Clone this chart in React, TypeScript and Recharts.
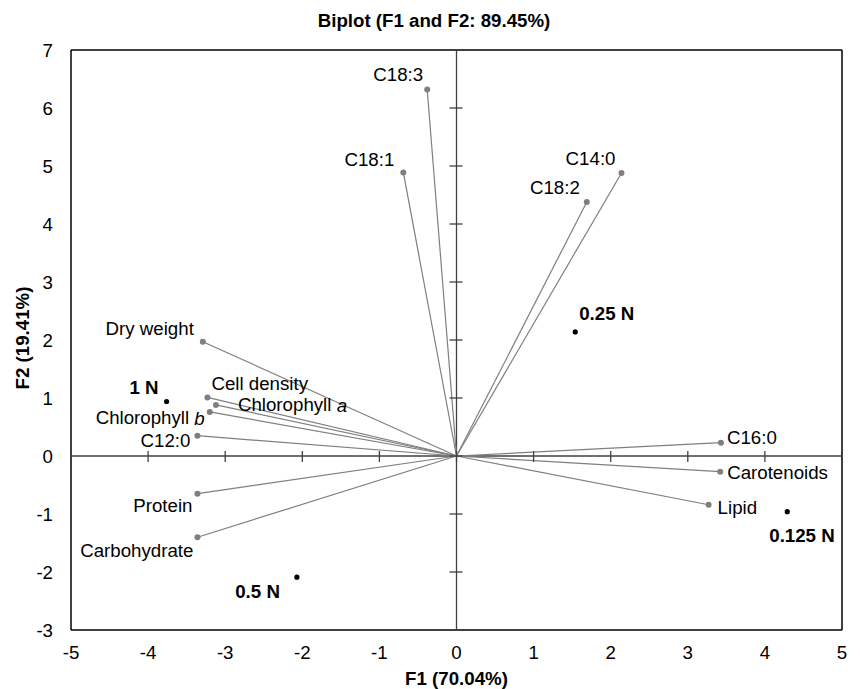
import {
  ScatterChart,
  Scatter,
  XAxis,
  YAxis,
  ReferenceLine,
  ReferenceDot,
} from "recharts";

// Loadings (variables) on F1 / F2
const variableNames = [
  "C18:3",
  "C18:1",
  "C14:0",
  "C18:2",
  "Dry weight",
  "Cell density",
  "Chlorophyll a",
  "Chlorophyll b",
  "C12:0",
  "Protein",
  "Carbohydrate",
  "C16:0",
  "Carotenoids",
  "Lipid",
];
const variableF1 = [-0.38, -0.69, 2.14, 1.69, -3.29, -3.23, -3.12, -3.2, -3.36, -3.36, -3.36, 3.43, 3.42, 3.27];
const variableF2 = [6.32, 4.89, 4.88, 4.38, 1.97, 1.01, 0.88, 0.76, 0.35, -0.65, -1.4, 0.23, -0.27, -0.84];

// Observations (nitrogen treatments)
const obsNames = ["1 N", "0.5 N", "0.25 N", "0.125 N"];
const obsF1 = [-3.76, -2.07, 1.54, 4.29];
const obsF2 = [0.94, -2.09, 2.14, -0.96];

const xTicks = [-5, -4, -3, -2, -1, 0, 1, 2, 3, 4, 5];
const yTicks = [-3, -2, -1, 0, 1, 2, 3, 4, 5, 6, 7];

const FONT = '"Liberation Sans", Arial, sans-serif';
const FS = 18.7;

// label placement relative to the marker (pixels)
type Anchor = "start" | "middle" | "end";
const labelPos: Record<string, { dx: number; dy: number; anchor: Anchor }> = {
  "C18:3": { dx: -4, dy: -15, anchor: "end" },
  "C18:1": { dx: -9, dy: -13, anchor: "end" },
  "C14:0": { dx: -6, dy: -14, anchor: "end" },
  "C18:2": { dx: -7, dy: -14, anchor: "end" },
  "Dry weight": { dx: -9, dy: -13, anchor: "end" },
  "Cell density": { dx: 4, dy: -14, anchor: "start" },
  "Chlorophyll a": { dx: 22, dy: 0, anchor: "start" },
  "Chlorophyll b": { dx: -5, dy: 6, anchor: "end" },
  "C12:0": { dx: -7, dy: 5, anchor: "end" },
  Protein: { dx: -5, dy: 12, anchor: "end" },
  Carbohydrate: { dx: -4, dy: 13, anchor: "end" },
  "C16:0": { dx: 6, dy: -5, anchor: "start" },
  Carotenoids: { dx: 7, dy: 1, anchor: "start" },
  Lipid: { dx: 9, dy: 3, anchor: "start" },
  "1 N": { dx: -8, dy: -14, anchor: "end" },
  "0.5 N": { dx: -17, dy: 14, anchor: "end" },
  "0.25 N": { dx: 4, dy: -18, anchor: "start" },
  "0.125 N": { dx: -18, dy: 24, anchor: "start" },
};

const variables = variableNames.map((name, i) => ({ name, x: variableF1[i], y: variableF2[i] }));
const observations = obsNames.map((name, i) => ({ name, x: obsF1[i], y: obsF2[i] }));

function labelText(name: string) {
  // italic trailing a / b for chlorophylls
  const m = name.match(/^(Chlorophyll )([ab])$/);
  if (m) {
    return (
      <>
        {m[1]}
        <tspan fontStyle="italic">{m[2]}</tspan>
      </>
    );
  }
  return name;
}

function makeShape(color: string, r: number, bold: boolean) {
  return (props: any) => {
    const { cx, cy, payload } = props;
    const p = labelPos[payload.name] ?? { dx: 6, dy: 0, anchor: "start" as Anchor };
    return (
      <g>
        <circle cx={cx} cy={cy} r={r} fill={color} />
        <text
          x={cx + p.dx}
          y={cy + p.dy}
          textAnchor={p.anchor}
          dominantBaseline="central"
          fontFamily={FONT}
          fontSize={FS}
          fontWeight={bold ? 700 : 400}
          fill="#000"
        >
          {labelText(payload.name)}
        </text>
      </g>
    );
  };
}

const XTick = (props: any) => (
  <text x={props.x} y={props.y + 22} textAnchor="middle" dominantBaseline="central" fontFamily={FONT} fontSize={FS} fill="#000">
    {props.payload.value}
  </text>
);

const YTick = (props: any) => (
  <text x={props.x - 18} y={props.y} textAnchor="end" dominantBaseline="central" fontFamily={FONT} fontSize={FS} fill="#000">
    {props.payload.value}
  </text>
);

const titleStyle = {
  position: "absolute" as const,
  fontFamily: FONT,
  fontWeight: 700,
  fontSize: FS,
  lineHeight: "22px",
  whiteSpace: "nowrap" as const,
};

export default function App() {
  return (
    <div style={{ position: "absolute", left: 0, top: 0, width: 860, height: 689, background: "#fff" }}>
      <div style={{ ...titleStyle, left: 0, width: 868, top: 10, textAlign: "center" }}>
        Biplot (F1 and F2: 89.45%)
      </div>
      <div style={{ ...titleStyle, left: 71, width: 771, top: 668, textAlign: "center" }}>
        F1 (70.04%)
      </div>
      <div style={{ ...titleStyle, left: 23, top: 338, transform: "translate(-50%, -50%) rotate(-90deg)" }}>
        F2 (19.41%)
      </div>
      <ScatterChart width={860} height={689} margin={{ top: 50, right: 18, bottom: 29, left: 11 }}>
        <XAxis
          type="number"
          dataKey="x"
          domain={[-5, 5]}
          ticks={xTicks}
          interval={0}
          allowDataOverflow
          axisLine={false}
          tickLine={false}
          tickSize={0}
          tickMargin={0}
          height={30}
          tick={<XTick />}
        />
        <YAxis
          type="number"
          dataKey="y"
          domain={[-3, 7]}
          ticks={yTicks}
          interval={0}
          allowDataOverflow
          axisLine={false}
          tickLine={false}
          tickSize={0}
          tickMargin={0}
          width={60}
          tick={<YTick />}
        />
        {/* frame */}
        <ReferenceLine x={-5} stroke="#000" strokeWidth={1.5} />
        <ReferenceLine x={5} stroke="#000" strokeWidth={1.5} />
        <ReferenceLine y={-3} stroke="#000" strokeWidth={1.5} />
        <ReferenceLine y={7} stroke="#000" strokeWidth={1.5} />
        {/* zero axes */}
        <ReferenceLine x={0} stroke="#404040" strokeWidth={1.3} />
        <ReferenceLine y={0} stroke="#404040" strokeWidth={1.3} />
        {xTicks.map((t) => (
          <ReferenceDot
            key={`xt${t}`}
            x={t}
            y={0}
            shape={(p: any) => <line x1={p.cx} y1={p.cy - 5} x2={p.cx} y2={p.cy + 6} stroke="#404040" strokeWidth={1.3} />}
          />
        ))}
        {yTicks.map((t) => (
          <ReferenceDot
            key={`yt${t}`}
            x={0}
            y={t}
            shape={(p: any) => <line x1={p.cx - 7} y1={p.cy} x2={p.cx + 6} y2={p.cy} stroke="#404040" strokeWidth={1.3} />}
          />
        ))}
        {/* loading vectors */}
        {variables.map((v) => (
          <ReferenceLine
            key={`v${v.name}`}
            segment={[
              { x: 0, y: 0 },
              { x: v.x, y: v.y },
            ]}
            stroke="#7f7f7f"
            strokeWidth={1.2}
          />
        ))}
        <Scatter data={variables} isAnimationActive={false} shape={makeShape("#7f7f7f", 3, false)} />
        <Scatter data={observations} isAnimationActive={false} shape={makeShape("#000", 2.6, true)} />
      </ScatterChart>
    </div>
  );
}
